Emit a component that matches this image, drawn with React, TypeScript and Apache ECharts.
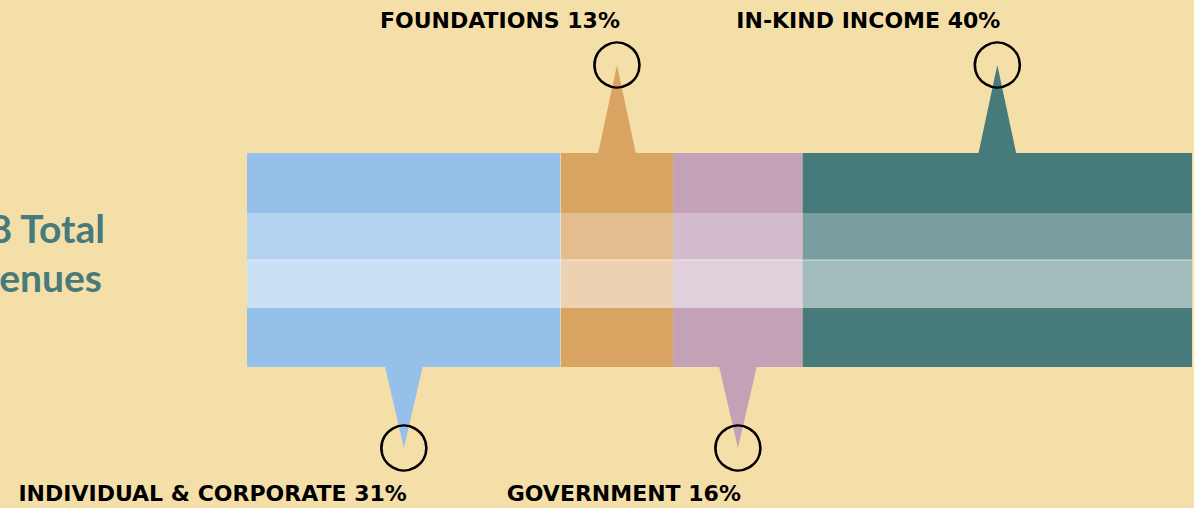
import React, { useEffect, useRef } from "react";
import * as echarts from "echarts";

// Revenue sources (labels as printed, share as printed)
const categories = ["INDIVIDUAL & CORPORATE", "FOUNDATIONS", "GOVERNMENT", "IN-KIND INCOME"];
const labelPercents = [31, 13, 16, 40];
// Segment lengths as drawn in the picture (estimated, relative units)
const segmentValues = [33.2, 11.9, 13.7, 41.2];
const baseColors = ["#94C0EA", "#D9A462", "#C3A2B8", "#467A7B"];
// Whether the callout sits above (true) or below (false) the bar
const calloutUp = [false, true, false, true];
const titleLines = ["2018 Total", "Revenues"];

const BG = "#F5DFA8";

function mixWhite(hex: string, t: number): string {
  const n = parseInt(hex.slice(1), 16);
  const r = (n >> 16) & 255, g = (n >> 8) & 255, b = n & 255;
  const m = (c: number) => Math.round(c + (255 - c) * t);
  return `rgb(${m(r)},${m(g)},${m(b)})`;
}

export default function App() {
  const ref = useRef<HTMLDivElement>(null);
  useEffect(() => {
    if (!ref.current) return;
    const chart = echarts.init(ref.current, null, { renderer: "svg" });
    let acc = 0;
    const data = segmentValues.map((v, i) => {
      const s = acc;
      acc += v;
      return [s, acc, i];
    });
    const total = acc;
    // band boundaries as fractions of bar height, and white tint per band
    const bandEdges = [0, 0.28, 0.5, 0.724, 1];
    const bandTint = [0, 0.28, 0.5, 0];

    chart.setOption({
      animation: false,
      backgroundColor: BG,
      grid: { left: 247, right: 2, top: 153, bottom: 141 },
      xAxis: { type: "value", min: 0, max: total, show: false },
      yAxis: { type: "value", min: 0, max: 1, show: false },
      graphic: [
        {
          type: "text",
          x: 105,
          y: 228,
          style: {
            text: titleLines[0],
            align: "right",
            verticalAlign: "middle",
            fill: "#467A7B",
            font: "bold 39px Lato",
          },
        },
        {
          type: "text",
          x: 102,
          y: 277,
          style: {
            text: titleLines[1],
            align: "right",
            verticalAlign: "middle",
            fill: "#467A7B",
            font: "bold 39px Lato",
          },
        },
      ],
      series: [
        {
          type: "custom",
          data,
          clip: false,
          renderItem: (params: any, api: any) => {
            const i = api.value(2);
            const [x0, yTop] = api.coord([api.value(0), 1]);
            const [x1, yBot] = api.coord([api.value(1), 0]);
            const h = yBot - yTop;
            const color = baseColors[i];
            const children: any[] = [];
            for (let b = 0; b < 4; b++) {
              const y0 = yTop + bandEdges[b] * h;
              const y1 = yTop + bandEdges[b + 1] * h;
              children.push({
                type: "rect",
                shape: { x: x0, y: y0, width: x1 - x0, height: y1 - y0 },
                style: { fill: bandTint[b] ? mixWhite(color, bandTint[b]) : color },
              });
            }
            // thin light line between band 2 and 3
            children.push({
              type: "rect",
              shape: { x: x0, y: yTop + bandEdges[2] * h - 0.5, width: x1 - x0, height: 1 },
              style: { fill: "rgba(255,255,255,0.6)" },
            });
            if (i === 0) {
              children.push({
                type: "rect",
                shape: { x: x1 - 0.5, y: yTop, width: 1, height: h },
                style: { fill: "rgba(255,255,255,0.7)" },
              });
            }
            const cx = (x0 + x1) / 2;
            const up = calloutUp[i];
            const tipY = up ? yTop - 88 : yBot + 81;
            const baseY = up ? yTop + 1 : yBot - 1;
            children.push({
              type: "polygon",
              shape: { points: [[cx - 19, baseY], [cx + 19, baseY], [cx, tipY]] },
              style: { fill: color },
            });
            children.push({
              type: "circle",
              shape: { cx, cy: tipY, r: 22.5 },
              style: { fill: "none", stroke: "#000", lineWidth: 2.6 },
            });
            children.push({
              type: "text",
              x: cx + 3,
              y: up ? yTop - 133 : yBot + 126,
              style: {
                text: `${categories[i]} ${labelPercents[i]}%`,
                align: "right",
                verticalAlign: "middle",
                fill: "#000",
                font: "bold 22px 'DejaVu Sans'",
              },
            });
            return { type: "group", children };
          },
        },
      ],
    });
    return () => chart.dispose();
  }, []);
  return (
    <div
      ref={ref}
      style={{ position: "fixed", left: 0, top: 0, width: 1194, height: 508 }}
    />
  );
}
